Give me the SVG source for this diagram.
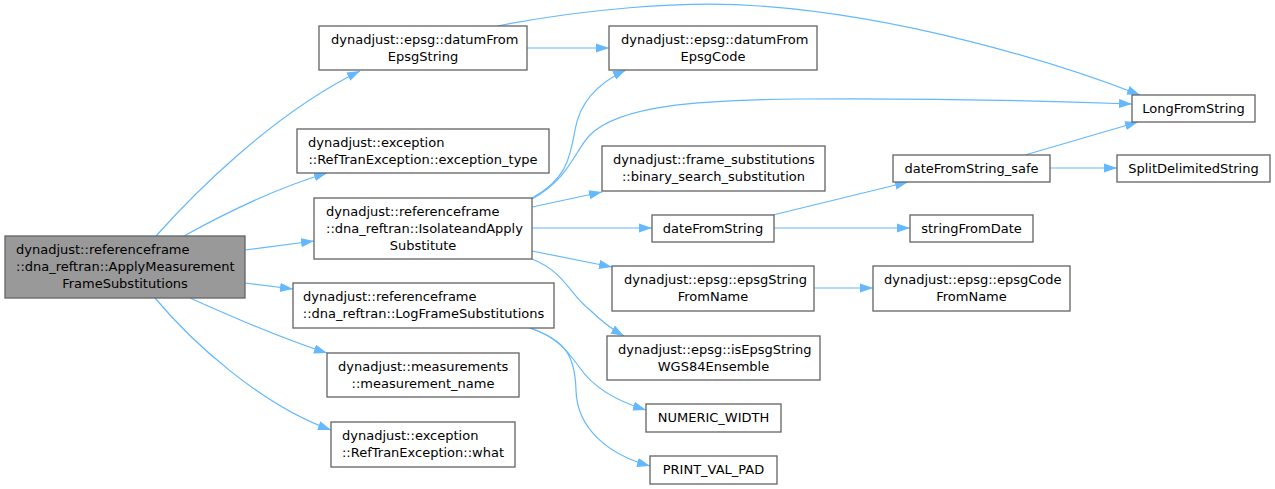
<svg xmlns="http://www.w3.org/2000/svg" width="1275" height="489" viewBox="0 0 1275 489">
<style>
.n rect{fill:#ffffff;stroke:#666666;stroke-width:1.33}
.n.m rect{fill:#999999}
text{font-family:"DejaVu Sans","Liberation Sans",sans-serif;font-size:13px;fill:#000000}
.c{text-anchor:middle}
#edges path{fill:none;stroke:#63b8ff;stroke-width:1.2;marker-end:url(#ah)}
</style>
<defs>
<marker id="ah" markerUnits="userSpaceOnUse" markerWidth="15" markerHeight="11" refX="13" refY="4.6" orient="auto"><path d="M0,0 L13,4.6 L0,9.2 z" fill="#63b8ff" stroke="none"/></marker>
</defs>
<rect width="1275" height="489" fill="#ffffff"/>
<g id="edges">
<path d="M156,236 C190,198 270,115 360,71"/>
<path d="M184,236 C220,216 270,190 327,173"/>
<path d="M245,250 L314,241"/>
<path d="M245,283 L293,289"/>
<path d="M190,298 C230,316 280,338 327,353"/>
<path d="M155,298 C190,340 260,405 331,430"/>
<path d="M527,48 L609,48"/>
<path d="M497,26 C580,10 680,0 760,6 C900,16 1050,60 1140,95"/>
<path d="M532,198 C565,180 570,160 575,130 C580,100 600,82 626,70"/>
<path d="M532,199 C570,178 575,150 590,135 C620,105 700,100 800,99 C930,98 1050,101 1132,104"/>
<path d="M532,207 L602,192"/>
<path d="M532,228 L652,228"/>
<path d="M532,251 L612,267"/>
<path d="M532,259 C565,272 570,295 590,310 C600,320 610,328 624,336"/>
<path d="M530,328 C560,338 570,355 580,368 C595,390 620,402 646,410"/>
<path d="M530,328 C565,340 575,355 576,390 C577,430 610,455 650,466"/>
<path d="M773,215 L908,182"/>
<path d="M774,228 L910,228"/>
<path d="M1025,155 L1138,122"/>
<path d="M1050,168 L1117,168"/>
<path d="M814,288 L873,288"/>
</g>
<g id="n_main" class="n m"><rect x="5" y="236" width="240" height="62"/><text x="16" y="253.5">dynadjust::referenceframe</text><text x="16" y="270.5">::dna_reftran::ApplyMeasurement</text><text class="c" x="125" y="287.5">FrameSubstitutions</text></g>
<g id="n_datumFromEpsgString" class="n"><rect x="319" y="26" width="208" height="44"/><text x="331" y="44">dynadjust::epsg::datumFrom</text><text class="c" x="423" y="61">EpsgString</text></g>
<g id="n_exception_type" class="n"><rect x="297" y="129" width="252" height="44"/><text x="308" y="147">dynadjust::exception</text><text class="c" x="423" y="164">::RefTranException::exception_type</text></g>
<g id="n_isolate" class="n"><rect x="314" y="198" width="218" height="61"/><text x="326" y="215.5">dynadjust::referenceframe</text><text x="326" y="232.5">::dna_reftran::IsolateandApply</text><text class="c" x="423" y="249.5">Substitute</text></g>
<g id="n_logframe" class="n"><rect x="293" y="283" width="261" height="45"/><text x="303" y="301">dynadjust::referenceframe</text><text class="c" x="423.5" y="318">::dna_reftran::LogFrameSubstitutions</text></g>
<g id="n_measurement_name" class="n"><rect x="327" y="353" width="192" height="44"/><text x="338" y="371">dynadjust::measurements</text><text class="c" x="423" y="388">::measurement_name</text></g>
<g id="n_what" class="n"><rect x="331" y="422" width="184" height="45"/><text x="342" y="440">dynadjust::exception</text><text class="c" x="423" y="457">::RefTranException::what</text></g>
<g id="n_datumFromEpsgCode" class="n"><rect x="609" y="26" width="208" height="44"/><text x="621" y="44">dynadjust::epsg::datumFrom</text><text class="c" x="713" y="61">EpsgCode</text></g>
<g id="n_binary_search" class="n"><rect x="602" y="146" width="223" height="45"/><text x="613" y="164">dynadjust::frame_substitutions</text><text class="c" x="713.5" y="181">::binary_search_substitution</text></g>
<g id="n_dateFromString" class="n"><rect x="652" y="215" width="122" height="27"/><text class="c" x="713" y="233">dateFromString</text></g>
<g id="n_epsgStringFromName" class="n"><rect x="612" y="266" width="202" height="45"/><text x="624" y="284">dynadjust::epsg::epsgString</text><text class="c" x="713" y="301">FromName</text></g>
<g id="n_isEpsgString" class="n"><rect x="607" y="336" width="213" height="44"/><text x="618" y="354">dynadjust::epsg::isEpsgString</text><text class="c" x="713.5" y="371">WGS84Ensemble</text></g>
<g id="n_numeric_width" class="n"><rect x="646" y="404" width="135" height="28"/><text class="c" x="713.5" y="422">NUMERIC_WIDTH</text></g>
<g id="n_print_val_pad" class="n"><rect x="650" y="456" width="127" height="28"/><text class="c" x="713.5" y="474">PRINT_VAL_PAD</text></g>
<g id="n_epsgCodeFromName" class="n"><rect x="873" y="266" width="197" height="45"/><text x="884" y="284">dynadjust::epsg::epsgCode</text><text class="c" x="971.5" y="301">FromName</text></g>
<g id="n_LongFromString" class="n"><rect x="1132" y="95" width="123" height="27"/><text class="c" x="1193.5" y="113">LongFromString</text></g>
<g id="n_dateFromString_safe" class="n"><rect x="893" y="155" width="157" height="27"/><text class="c" x="971.5" y="173">dateFromString_safe</text></g>
<g id="n_SplitDelimitedString" class="n"><rect x="1117" y="155" width="153" height="27"/><text class="c" x="1193.5" y="173">SplitDelimitedString</text></g>
<g id="n_stringFromDate" class="n"><rect x="910" y="215" width="123" height="27"/><text class="c" x="971.5" y="233">stringFromDate</text></g>
</svg>
